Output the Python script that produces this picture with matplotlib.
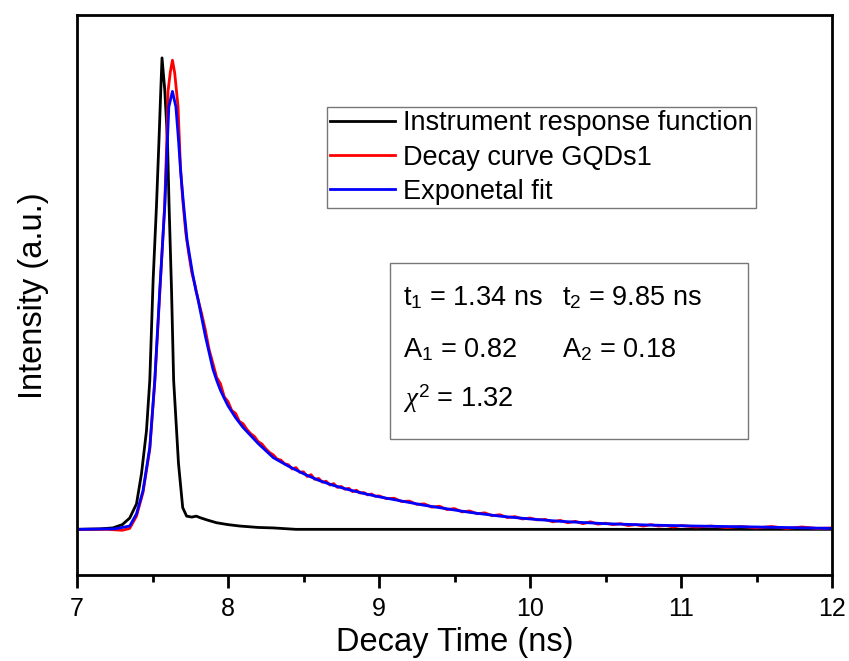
import matplotlib
matplotlib.use("Agg")
import matplotlib.pyplot as plt
from matplotlib.patches import Rectangle

# ==================================
# DATA
# ==================================

irf_t = [7.0, 7.15, 7.237, 7.30, 7.349, 7.394, 7.427, 7.460, 7.482, 7.504, 7.526,
         7.543, 7.555, 7.563, 7.581, 7.599, 7.610, 7.626, 7.640, 7.672, 7.700,
         7.726, 7.760, 7.790, 7.813, 7.860, 7.924, 8.000, 8.078, 8.20, 8.30,
         8.45, 12.0]
irf_i = [0.0, 0.001, 0.003, 0.010, 0.024, 0.054, 0.118, 0.209, 0.316, 0.528, 0.684,
         0.826, 0.933, 1.0, 0.933, 0.826, 0.684, 0.507, 0.316, 0.140, 0.046,
         0.028, 0.026, 0.028, 0.025, 0.020, 0.014, 0.010, 0.007, 0.004, 0.003,
         0.0, 0.0]

decay_t = [7.0, 7.2, 7.3, 7.349, 7.394, 7.437, 7.482, 7.515, 7.548, 7.581, 7.595,
           7.603, 7.618, 7.632, 7.647, 7.669, 7.685, 7.70, 7.72, 7.74, 7.76,
           7.78, 7.80, 7.825, 7.85, 7.875, 7.90, 7.925, 7.95, 7.975, 8.00,
           8.025, 8.05, 8.075, 8.10, 8.125, 8.15, 8.175, 8.20, 8.225, 8.25,
           8.275, 8.30, 8.325, 8.35, 8.375, 8.40, 8.425, 8.45, 8.475, 8.50,
           8.525, 8.55, 8.575, 8.60, 8.625, 8.65, 8.675, 8.70, 8.725, 8.75,
           8.775, 8.80, 8.825, 8.85, 8.875, 8.90, 8.925, 8.95, 8.975, 9.00,
           9.05, 9.10, 9.15, 9.20, 9.25, 9.30, 9.35, 9.40, 9.45, 9.50,
           9.55, 9.60, 9.65, 9.70, 9.75, 9.80, 9.85, 9.90, 9.95, 10.00,
           10.05, 10.10, 10.15, 10.20, 10.25, 10.30, 10.35, 10.40, 10.45, 10.50,
           10.55, 10.60, 10.65, 10.70, 10.75, 10.80, 10.85, 10.90, 10.95, 11.00,
           11.1, 11.2, 11.3, 11.4, 11.5, 11.6, 11.7, 11.8, 11.9, 12.0]
decay_i = [0.0, 0.0, -0.002, 0.002, 0.028, 0.078, 0.170, 0.312, 0.500, 0.690, 0.830,
           0.930, 0.970, 0.995, 0.968, 0.897, 0.770, 0.700, 0.630, 0.585, 0.545,
           0.520, 0.490, 0.458, 0.423, 0.381, 0.352, 0.322, 0.309, 0.281, 0.271,
           0.252, 0.246, 0.229, 0.224, 0.212, 0.203, 0.197, 0.186, 0.181, 0.171,
           0.163, 0.158, 0.149, 0.147, 0.139, 0.137, 0.128, 0.131, 0.121, 0.122,
           0.112, 0.116, 0.106, 0.108, 0.100, 0.102, 0.094, 0.097, 0.089, 0.091,
           0.085, 0.087, 0.080, 0.083, 0.077, 0.078, 0.073, 0.075, 0.070, 0.071,
           0.065, 0.066, 0.059, 0.060, 0.053, 0.054, 0.047, 0.049, 0.042, 0.044,
           0.037, 0.039, 0.033, 0.035, 0.029, 0.031, 0.025, 0.027, 0.022, 0.024,
           0.020, 0.021, 0.016, 0.019, 0.014, 0.017, 0.012, 0.016, 0.011, 0.013,
           0.010, 0.012, 0.008, 0.010, 0.007, 0.010, 0.007, 0.008, 0.005, 0.008,
           0.005, 0.007, 0.004, 0.006, 0.003, 0.006, 0.002, 0.005, 0.002, 0.003]

fit_t = [7.0, 7.25, 7.349, 7.394, 7.437, 7.482, 7.515, 7.548, 7.581, 7.599, 7.608,
         7.632, 7.655, 7.672, 7.687, 7.707, 7.729, 7.765, 7.787, 7.80, 7.825,
         7.85, 7.875, 7.90, 7.925, 7.95, 7.975, 8.00, 8.05, 8.10, 8.15,
         8.20, 8.25, 8.30, 8.35, 8.40, 8.45, 8.50, 8.55, 8.60, 8.70,
         8.80, 8.90, 9.00, 9.10, 9.20, 9.30, 9.40, 9.50, 9.60, 9.70,
         9.80, 9.90, 10.00, 10.20, 10.50, 10.80, 11.10, 11.50, 12.00]
fit_i = [0.0, 0.001, 0.007, 0.033, 0.082, 0.174, 0.316, 0.507, 0.684, 0.826, 0.896,
         0.929, 0.896, 0.826, 0.756, 0.684, 0.613, 0.543, 0.507, 0.490, 0.450,
         0.410, 0.375, 0.340, 0.316, 0.295, 0.278, 0.262, 0.237, 0.216, 0.199,
         0.182, 0.167, 0.152, 0.143, 0.134, 0.126, 0.118, 0.111, 0.104, 0.093,
         0.084, 0.076, 0.069, 0.063, 0.057, 0.051, 0.046, 0.041, 0.036, 0.032,
         0.028, 0.025, 0.022, 0.017, 0.012, 0.009, 0.007, 0.005, 0.002]

labels = ["Instrument response function", "Decay curve GQDs1", "Exponetal fit"]
xticks = [7, 8, 9, 10, 11, 12]

# ==================================
# STYLE
# ==================================

plt.rcParams["font.family"] = ["Liberation Sans", "DejaVu Sans"]
plt.rcParams["mathtext.fontset"] = "custom"
plt.rcParams["mathtext.rm"] = "Liberation Sans"
plt.rcParams["mathtext.it"] = "Liberation Serif:italic"

fig = plt.figure(figsize=(8.49, 6.61), dpi=100)
ax = fig.add_axes([0.0907, 0.130, 0.8893, 0.8466])

ax.plot(irf_t, irf_i, color="black", lw=2, label=labels[0])
ax.plot(decay_t, decay_i, color="#ff0000", lw=2, label=labels[1])
ax.plot(fit_t, fit_i, color="#0000ff", lw=2, label=labels[2])

ax.set_xlim(7, 12)
ax.set_ylim(-0.097, 1.090)
ax.set_xticks(xticks)
ax.set_xticks([7.5, 8.5, 9.5, 10.5, 11.5], minor=True)
ax.set_yticks([])
ax.tick_params(axis="x", which="major", direction="out", length=9, width=2,
               labelsize=18, pad=7)
ax.tick_params(axis="x", which="minor", direction="out", length=5, width=2)
for s in ax.spines.values():
    s.set_linewidth(2)

ax.set_xlabel("Decay Time (ns)", fontsize=23.5, labelpad=4)
ax.set_ylabel("Intensity (a.u.)", fontsize=23.5, labelpad=20)

leg = ax.legend(loc="upper left", bbox_to_anchor=(0.331, 0.836), fontsize=19.5,
                frameon=True, fancybox=False, borderaxespad=0, borderpad=0.12,
                handlelength=2.4, handletextpad=0.3, labelspacing=0.3)
leg.get_frame().set_edgecolor("#555555")
leg.get_frame().set_linewidth(1)

ax.add_patch(Rectangle((0.414, 0.243), 0.475, 0.315, transform=ax.transAxes,
                       fill=False, edgecolor="#777777", lw=1))
ax.text(0.4316, 0.4826, "t$_1$ = 1.34 ns", transform=ax.transAxes,
        fontsize=19.5, va="baseline")
ax.text(0.642, 0.4826, "t$_2$ = 9.85 ns", transform=ax.transAxes,
        fontsize=19.5, va="baseline")
ax.text(0.4316, 0.390, "A$_1$ = 0.82", transform=ax.transAxes,
        fontsize=19.5, va="baseline")
ax.text(0.643, 0.390, "A$_2$ = 0.18", transform=ax.transAxes,
        fontsize=19.5, va="baseline")
ax.text(0.4316, 0.3008, r"$\mathit{\chi}^{2}$ = 1.32", transform=ax.transAxes,
        fontsize=19.5, va="baseline")

fig.savefig("out.png", dpi=100)
